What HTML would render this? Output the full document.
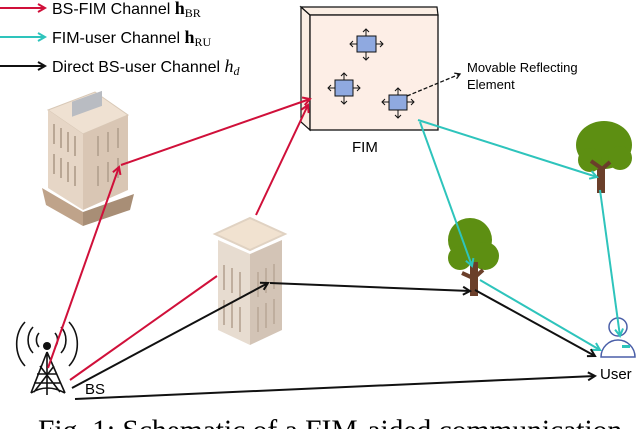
<!DOCTYPE html>
<html><head><meta charset="utf-8"><style>
body{margin:0;width:640px;height:429px;overflow:hidden;background:#fff}
svg{display:block}
text{font-family:"Liberation Sans",sans-serif}
</style></head><body>
<svg width="640" height="429" viewBox="0 0 640 429" xmlns="http://www.w3.org/2000/svg">
<defs>
<marker id="ar" markerWidth="10" markerHeight="10" refX="8" refY="5" orient="auto" markerUnits="userSpaceOnUse"><path d="M1,1 L8,5 L1,9" fill="none" stroke="#d0103a" stroke-width="2"/></marker>
<marker id="ac" markerWidth="10" markerHeight="10" refX="8" refY="5" orient="auto" markerUnits="userSpaceOnUse"><path d="M1,1 L8,5 L1,9" fill="none" stroke="#2ec4bc" stroke-width="2"/></marker>
<marker id="ak" markerWidth="10" markerHeight="10" refX="8" refY="5" orient="auto" markerUnits="userSpaceOnUse"><path d="M1,1 L8,5 L1,9" fill="none" stroke="#111" stroke-width="2"/></marker>
<marker id="as" markerWidth="8" markerHeight="8" refX="6" refY="4" orient="auto" markerUnits="userSpaceOnUse"><path d="M1,1 L6,4 L1,7" fill="none" stroke="#111" stroke-width="1.3"/></marker>
</defs>
<!-- legend -->
<line x1="0" y1="8" x2="45" y2="8" stroke="#d0103a" stroke-width="2" marker-end="url(#ar)"/>
<line x1="0" y1="37" x2="45" y2="37" stroke="#2ec4bc" stroke-width="2" marker-end="url(#ac)"/>
<line x1="0" y1="66" x2="45" y2="66" stroke="#111" stroke-width="2" marker-end="url(#ak)"/>
<text x="52" y="14" font-size="16">BS-FIM Channel <tspan font-family="Liberation Serif" font-weight="bold" font-size="18">h</tspan><tspan font-family="Liberation Serif" font-size="12" dy="3">BR</tspan></text>
<text x="52" y="43" font-size="16">FIM-user Channel <tspan font-family="Liberation Serif" font-weight="bold" font-size="18">h</tspan><tspan font-family="Liberation Serif" font-size="12" dy="3">RU</tspan></text>
<text x="52" y="72" font-size="16">Direct BS-user Channel <tspan font-family="Liberation Serif" font-style="italic" font-size="18">h</tspan><tspan font-family="Liberation Serif" font-style="italic" font-size="12" dy="3">d</tspan></text>
<!-- FIM -->
<polygon points="301,7 310,15 310,130 301,122" fill="#fbeee4" stroke="#111" stroke-width="1.2"/>
<polygon points="301,7 437,7 438,15 310,15" fill="#fbeee4" stroke="#111" stroke-width="1.2"/>
<rect x="310" y="15" width="128" height="115" fill="#fdeee6" stroke="#111" stroke-width="1.3"/>
<g fill="#8fa9e0" stroke="#111" stroke-width="1">
<rect x="357" y="36" width="19" height="16"/><rect x="335" y="80" width="18" height="16"/><rect x="389" y="95" width="18" height="15"/>
</g>
<g stroke="#111" stroke-width="1" fill="none">
<path d="M366,36v-7m-3,3l3,-3l3,3M366,52v8m-3,-3l3,3l3,-3M357,44h-7m3,-3l-3,3l3,3M376,44h7m-3,-3l3,3l-3,3"/>
<path d="M344,80v-7m-3,3l3,-3l3,3M344,96v8m-3,-3l3,3l3,-3M335,88h-7m3,-3l-3,3l3,3M353,88h7m-3,-3l3,3l-3,3"/>
<path d="M398,95v-7m-3,3l3,-3l3,3M398,110v8m-3,-3l3,3l3,-3M389,102h-7m3,-3l-3,3l3,3M407,102h7m-3,-3l3,3l-3,3"/>
</g>
<line x1="407" y1="96" x2="460" y2="74" stroke="#111" stroke-width="1.3" stroke-dasharray="4,2" marker-end="url(#as)"/>
<text x="467" y="72" font-size="13">Movable Reflecting</text>
<text x="467" y="89" font-size="13">Element</text>
<text x="352" y="152" font-size="15">FIM</text>
<!-- left building -->
<g>
<polygon points="48,110 95,92 128,115 83,134" fill="#efe1d2" stroke="#d8c8b6"/>
<polygon points="48,110 83,134 83,210 48,188" fill="#e6d6c6"/>
<polygon points="83,134 128,115 128,190 83,210" fill="#d9c6b4"/>
<polygon points="42,188 83,212 83,226 46,205" fill="#bfa38a"/>
<polygon points="83,212 134,194 130,210 83,226" fill="#a88e76"/>
<rect x="72" y="100" width="30" height="15" fill="#b9bcc2" transform="skewY(-20) translate(0,28)"/>
<g stroke="#b9a795" stroke-width="2" fill="none">
<path d="M54,124v20M61,128v20M68,132v20M75,136v20M54,154v20M61,158v20M68,162v20M75,166v20"/>
<path d="M98,136v20M108,132v20M118,128v20M98,166v20M108,162v20M118,158v20"/>
</g>
</g>
<!-- middle building -->
<g>
<polygon points="215,234 250,218 285,234 250,250" fill="#f1e2d0" stroke="#e0d2c2" stroke-width="2"/>
<polygon points="218,240 250,254 250,345 218,330" fill="#e7dcd0"/>
<polygon points="250,254 282,240 282,330 250,345" fill="#d3c4b6"/>
<g stroke="#bfae9e" stroke-width="2" fill="none">
<path d="M224,265v25M232,268v25M240,272v25M224,300v25M232,303v25M240,307v25M258,272v25M266,268v25M274,264v25M258,307v25M266,303v25M274,299v25"/>
</g>
</g>
<!-- trees -->
<g>
<rect x="597" y="160" width="8" height="33" fill="#6b3f2a"/>
<ellipse cx="604" cy="145" rx="28" ry="24" fill="#5d8f12"/>
<circle cx="590" cy="160" r="12" fill="#5d8f12"/><circle cx="620" cy="158" r="12" fill="#5d8f12"/>
<path d="M601,168l-10,-7M601,170l9,-8" stroke="#6b3f2a" stroke-width="4"/>
</g>
<g>
<circle cx="470" cy="240" r="22" fill="#5d8f12"/><circle cx="460" cy="258" r="12" fill="#5d8f12"/><circle cx="485" cy="256" r="14" fill="#5d8f12"/>
<rect x="470" y="262" width="8" height="34" fill="#6b3f2a"/>
<path d="M473,278l-11,-5M474,278l9,-8" stroke="#6b3f2a" stroke-width="4"/>
</g>
<!-- user -->
<circle cx="618" cy="327" r="9" fill="#fff" stroke="#4a5fa8" stroke-width="1.5"/>
<path d="M601,357 a17,17 0 0 1 34,0 z" fill="#fff" stroke="#4a5fa8" stroke-width="1.5"/>
<rect x="622" y="345" width="8" height="3" fill="#2ec4bc"/>
<text x="600" y="379" font-size="15">User</text>
<!-- BS tower -->
<g stroke="#111" fill="none" stroke-width="1.6">
<path d="M47,352 L31,393 M47,352 L65,393 M47,352 V395 M37,374h20 M34,383h26 M31,393 Q47,383 65,393 M40,366 L60,392 M54,366 L34,392"/>
<path d="M39,347 a9,10 0 0 1 0,-14 M55,347 a9,10 0 0 0 0,-14"/>
<path d="M33,353 a16,18 0 0 1 0,-26 M61,353 a16,18 0 0 0 0,-26"/>
<path d="M25,366 a26,30 0 0 1 0,-44 M69,366 a26,30 0 0 0 0,-44"/>
</g>
<circle cx="47" cy="346" r="4" fill="#111"/>
<text x="85" y="394" font-size="15">BS</text>
<!-- red lines -->
<g stroke="#d0103a" stroke-width="2" fill="none">
<line x1="48" y1="368" x2="119" y2="167" marker-end="url(#ar)"/>
<line x1="121" y1="165" x2="310" y2="99" marker-end="url(#ar)"/>
<line x1="256" y1="215" x2="308" y2="105" marker-end="url(#ar)"/>
<line x1="70" y1="380" x2="217" y2="276"/>
</g>
<!-- cyan -->
<g stroke="#2ec4bc" stroke-width="2" fill="none">
<line x1="418" y1="120" x2="597" y2="177" marker-end="url(#ac)"/>
<line x1="420" y1="122" x2="472" y2="266" marker-end="url(#ac)"/>
<line x1="600" y1="190" x2="620" y2="336" marker-end="url(#ac)"/>
<line x1="480" y1="280" x2="600" y2="350" marker-end="url(#ac)"/>
</g>
<!-- black -->
<g stroke="#111" stroke-width="2" fill="none">
<line x1="72" y1="388" x2="268" y2="283" marker-end="url(#ak)"/>
<line x1="270" y1="283" x2="470" y2="291" marker-end="url(#ak)"/>
<line x1="475" y1="290" x2="595" y2="356" marker-end="url(#ak)"/>
<line x1="75" y1="399" x2="595" y2="376" marker-end="url(#ak)"/>
</g>
<text x="38" y="440" font-size="29.5" style="font-family:'Liberation Serif',serif">Fig. 1: Schematic of a FIM-aided communication</text>
</svg>
</body></html>
